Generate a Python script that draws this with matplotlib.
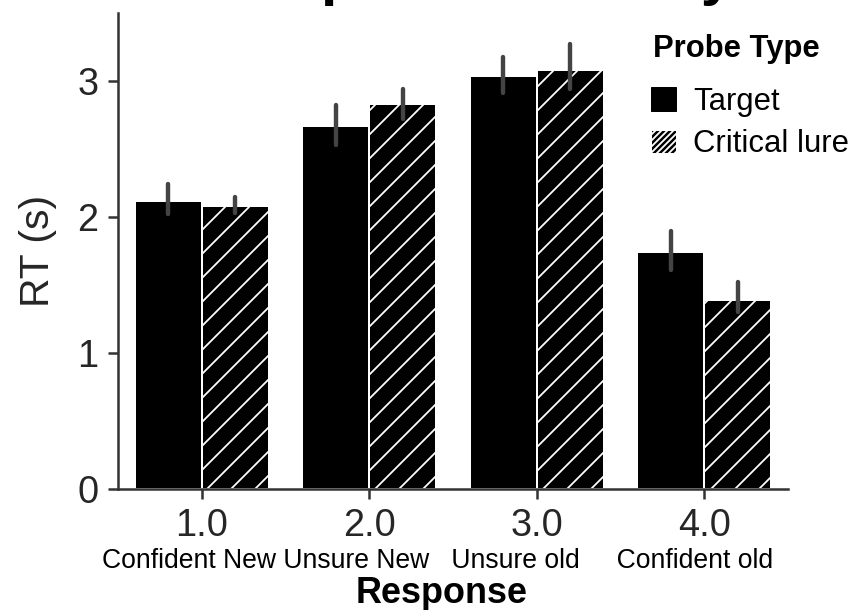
import numpy as np
import matplotlib
matplotlib.use('Agg')
import matplotlib.pyplot as plt
from matplotlib.patches import Patch

plt.rcParams['font.family'] = ['Liberation Sans', 'DejaVu Sans']
plt.rcParams['hatch.linewidth'] = 1.8

# data
responses = ['1.0', '2.0', '3.0', '4.0']
response_names = 'Confident New Unsure New   Unsure old     Confident old'
probe_types = ['Target', 'Critical lure']
rt_target = [2.12, 2.67, 3.04, 1.74]
rt_lure = [2.08, 2.83, 3.08, 1.39]
ci_target = [(2.02, 2.24), (2.53, 2.82), (2.91, 3.18), (1.61, 1.90)]
ci_lure = [(2.03, 2.15), (2.72, 2.94), (2.94, 3.27), (1.30, 1.52)]

# 72 dpi so one point is one pixel (also sets the hatch spacing)
dpi = 72
fig = plt.figure(figsize=(854 / dpi, 610 / dpi), dpi=dpi)
ax = fig.add_axes([118 / 854, 1 - 489 / 610, 670 / 854, 476 / 610])

x = np.arange(len(responses))
w = 0.4
ax.bar(x - w / 2, rt_target, width=w, color='black', edgecolor='white', linewidth=2)
ax.bar(x + w / 2, rt_lure, width=w, color='black', edgecolor='white', linewidth=2, hatch='/')

# error bars
for xs, cis in [(x - w / 2, ci_target), (x + w / 2, ci_lure)]:
    for xi, (lo, hi) in zip(xs, cis):
        ax.plot([xi, xi], [lo, hi], color='#444444', lw=4.4, solid_capstyle='round')

ax.set_xlim(-0.5, 3.5)
ax.set_ylim(0, 3.5)
ax.set_yticks([0, 1, 2, 3])
ax.set_xticks(x)
ax.set_xticklabels(responses)

for s in ['top', 'right']:
    ax.spines[s].set_visible(False)
for s in ['left', 'bottom']:
    ax.spines[s].set_color('#333333')
    ax.spines[s].set_linewidth(2.5)
ax.tick_params(colors='#333333', length=10, width=2.5, labelsize=38, pad=9.5)
for lab in ax.get_xticklabels() + ax.get_yticklabels():
    lab.set_color('#262626')

ax.set_ylabel('RT (s)', fontsize=41, color='#262626')
ax.yaxis.set_label_coords(-0.091, 0.5)

fig.text(438 / 854, 1 - 568 / 610, response_names, ha='center', va='baseline', fontsize=26.5)
fig.text(442 / 854, 1 - 603 / 610, 'Response', ha='center', va='baseline',
         fontsize=36, fontweight='bold')

# title mostly above the canvas
fig.text(473 / 854, 1 + 6 / 610, 'Response Latency', ha='center', va='baseline',
         fontsize=59, fontweight='bold')

# legend
fig.text(653 / 854, 1 - 57 / 610, 'Probe Type', ha='left', va='baseline',
         fontsize=31, fontweight='bold')
handles = [Patch(facecolor='black', edgecolor='black'),
           Patch(facecolor='black', edgecolor='white', hatch='////')]
leg = fig.legend(handles, probe_types, loc='upper left', bbox_to_anchor=(651 / 854, 1 - 87 / 610),
                 frameon=False, fontsize=31,
                 handlelength=0.8, handleheight=0.8, handletextpad=0.55, labelspacing=0.4,
                 borderpad=0, borderaxespad=0)

fig.savefig('out.png', dpi=dpi)
